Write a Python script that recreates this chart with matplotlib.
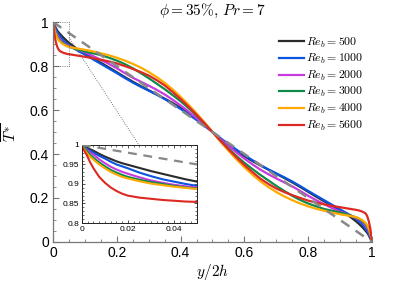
import numpy as np
import matplotlib
matplotlib.use('Agg')
import matplotlib.pyplot as plt
from matplotlib.ticker import MultipleLocator

plt.rcParams['mathtext.fontset'] = 'cm'
plt.rcParams['font.family'] = ['Liberation Sans', 'DejaVu Sans']

# Wall-normal position y/2h
x = [0, 0.001, 0.002, 0.0035, 0.005, 0.0075, 0.01, 0.0125, 0.015, 0.0175, 0.02, 0.025,
     0.03, 0.035, 0.04, 0.045, 0.05, 0.075, 0.1, 0.125, 0.15, 0.175, 0.2, 0.225, 0.25,
     0.275, 0.3, 0.325, 0.35, 0.375, 0.4, 0.425, 0.45, 0.475, 0.5,
     0.525, 0.55, 0.575, 0.6, 0.625, 0.65, 0.675, 0.7, 0.725, 0.75, 0.775, 0.8, 0.825,
     0.85, 0.875, 0.9, 0.925, 0.95, 0.96, 0.97, 0.98, 0.985, 0.99, 0.995, 0.998, 1.0]

# Mean temperature profiles
t_500 = [1, 0.997, 0.993, 0.989, 0.985, 0.977, 0.97, 0.964, 0.958, 0.953, 0.949, 0.941,
         0.933, 0.926, 0.919, 0.912, 0.906, 0.878, 0.855, 0.835, 0.815, 0.794, 0.772, 0.75, 0.729,
         0.709, 0.69, 0.671, 0.652, 0.632, 0.61, 0.586, 0.56, 0.531, 0.5,
         0.469, 0.44, 0.414, 0.39, 0.368, 0.348, 0.329, 0.31, 0.291, 0.271, 0.25, 0.228, 0.206,
         0.185, 0.165, 0.145, 0.122, 0.094, 0.081, 0.067, 0.051, 0.042, 0.03, 0.015, 0.007, 0]
t_1000 = [1, 0.995, 0.99, 0.985, 0.98, 0.972, 0.965, 0.957, 0.95, 0.945, 0.94, 0.929,
          0.92, 0.912, 0.906, 0.9, 0.895, 0.872, 0.852, 0.831, 0.81, 0.789, 0.768, 0.746, 0.725,
          0.706, 0.688, 0.67, 0.65, 0.628, 0.605, 0.58, 0.555, 0.528, 0.5,
          0.472, 0.445, 0.42, 0.395, 0.372, 0.35, 0.33, 0.312, 0.294, 0.275, 0.254, 0.232, 0.211,
          0.19, 0.169, 0.148, 0.128, 0.105, 0.094, 0.08, 0.06, 0.05, 0.035, 0.02, 0.01, 0]
t_2000 = [1, 0.994, 0.988, 0.981, 0.975, 0.963, 0.953, 0.944, 0.937, 0.931, 0.926, 0.917,
          0.909, 0.903, 0.898, 0.894, 0.891, 0.875, 0.862, 0.846, 0.828, 0.81, 0.79, 0.768, 0.747,
          0.729, 0.711, 0.692, 0.671, 0.647, 0.621, 0.593, 0.563, 0.532, 0.5,
          0.468, 0.437, 0.407, 0.379, 0.353, 0.329, 0.308, 0.289, 0.271, 0.253, 0.232, 0.21, 0.19,
          0.172, 0.154, 0.138, 0.125, 0.109, 0.102, 0.091, 0.074, 0.063, 0.047, 0.025, 0.012, 0]
t_3000 = [1, 0.993, 0.985, 0.975, 0.967, 0.955, 0.945, 0.936, 0.929, 0.923, 0.918, 0.911,
          0.905, 0.9, 0.895, 0.891, 0.888, 0.876, 0.866, 0.858, 0.85, 0.838, 0.825, 0.809, 0.79,
          0.768, 0.745, 0.72, 0.695, 0.668, 0.64, 0.609, 0.575, 0.539, 0.5,
          0.461, 0.425, 0.391, 0.36, 0.332, 0.305, 0.28, 0.255, 0.232, 0.21, 0.191, 0.175, 0.162,
          0.15, 0.142, 0.134, 0.124, 0.112, 0.105, 0.095, 0.082, 0.071, 0.055, 0.033, 0.015, 0]
t_4000 = [0.995, 0.988, 0.98, 0.97, 0.962, 0.95, 0.94, 0.931, 0.924, 0.918, 0.914, 0.907,
          0.901, 0.897, 0.893, 0.89, 0.887, 0.88, 0.874, 0.867, 0.858, 0.849, 0.838, 0.825, 0.81,
          0.793, 0.773, 0.75, 0.724, 0.694, 0.66, 0.624, 0.585, 0.544, 0.5,
          0.456, 0.415, 0.376, 0.34, 0.306, 0.276, 0.25, 0.227, 0.207, 0.19, 0.175, 0.162, 0.151,
          0.142, 0.133, 0.126, 0.12, 0.113, 0.107, 0.099, 0.086, 0.076, 0.06, 0.038, 0.02, 0.005]
t_5600 = [0.995, 0.985, 0.975, 0.956, 0.94, 0.918, 0.903, 0.891, 0.882, 0.875, 0.87, 0.865,
          0.862, 0.859, 0.857, 0.855, 0.854, 0.848, 0.842, 0.836, 0.829, 0.821, 0.812, 0.8, 0.787,
          0.773, 0.757, 0.736, 0.712, 0.682, 0.65, 0.615, 0.578, 0.54, 0.5,
          0.46, 0.422, 0.385, 0.35, 0.318, 0.288, 0.264, 0.243, 0.227, 0.213, 0.2, 0.188, 0.179,
          0.171, 0.164, 0.158, 0.152, 0.146, 0.143, 0.138, 0.13, 0.118, 0.095, 0.06, 0.025, 0.005]

# Laminar reference (dashed)
x_lam = [0, 1]
t_lam = [1, 0]

labels = ['$Re_b = 500$', '$Re_b = 1000$', '$Re_b = 2000$',
          '$Re_b = 3000$', '$Re_b = 4000$', '$Re_b = 5600$']
colors = ['#2b2b2b', '#0a55e0', '#c63ae0', '#108a4a', '#ffaa00', '#dc2a22']
profiles = [t_500, t_1000, t_2000, t_3000, t_4000, t_5600]

main_ticks = [0, 0.2, 0.4, 0.6, 0.8, 1]
main_ticklabels = ['0', '0.2', '0.4', '0.6', '0.8', '1']
inset_xticks = [0, 0.02, 0.04]
inset_xticklabels = ['0', '0.02', '0.04']
inset_yticks = [0.8, 0.85, 0.9, 0.95, 1]
inset_yticklabels = ['0.8', '0.85', '0.9', '0.95', '1']

fig = plt.figure(figsize=(4.11, 2.83), dpi=100)
ax = fig.add_axes([0.129, 0.145, 0.776, 0.777])

ax.plot(x_lam, t_lam, color='#888888', lw=1.8, ls=(0, (4, 3)), zorder=3)
for t, c, lab in zip(profiles, colors, labels):
    ax.plot(x, t, color=c, lw=1.6, label=lab, zorder=2)

ax.set_xlim(0, 1)
ax.set_ylim(0, 1)
ax.set_xticks(main_ticks)
ax.set_xticklabels(main_ticklabels)
ax.set_yticks(main_ticks)
ax.set_yticklabels(main_ticklabels)
ax.xaxis.set_minor_locator(MultipleLocator(0.05))
ax.yaxis.set_minor_locator(MultipleLocator(0.05))
ax.tick_params(which='both', direction='in', color='#777777', labelsize=10, pad=3)
ax.tick_params(which='major', length=4, width=0.8)
ax.tick_params(which='minor', length=2.5, width=0.6)
for s in ['top', 'right']:
    ax.spines[s].set_visible(False)
for s in ['left', 'bottom']:
    ax.spines[s].set_color('#777777')
    ax.spines[s].set_linewidth(0.9)

ax.set_title(r'$\phi = 35\%,\, Pr = 7$', fontsize=11, pad=5)
ax.set_xlabel('$y/2h$', fontsize=11, labelpad=1)
ax.set_ylabel(r'$\overline{T^{*}}$', fontsize=11, labelpad=7)

# zoom box and connector
ax.plot([0, 0.05, 0.05, 0], [1, 1, 0.8, 0.8], color='#555555', lw=0.6, ls=':', zorder=4)
ax.plot([0.05, 0.27], [0.93, 0.44], color='#555555', lw=0.6, ls=':', zorder=1)

ax.legend(loc='upper left', bbox_to_anchor=(0.665, 0.895), bbox_transform=fig.transFigure,
          frameon=False, fontsize=8.5, handlelength=2.1, handletextpad=0.15,
          labelspacing=0.22, borderpad=0)

# inset
axi = fig.add_axes([0.1995, 0.212, 0.2795, 0.276])
axi.plot(x_lam, t_lam, color='#888888', lw=1.6, ls=(0, (4, 3)), zorder=3)
for t, c in zip(profiles, colors):
    axi.plot(x, t, color=c, lw=1.5, zorder=2)
axi.set_xlim(0, 0.05)
axi.set_ylim(0.8, 1)
axi.set_xticks(inset_xticks)
axi.set_xticklabels(inset_xticklabels)
axi.set_yticks(inset_yticks)
axi.set_yticklabels(inset_yticklabels)
axi.xaxis.set_minor_locator(MultipleLocator(0.0025))
axi.yaxis.set_minor_locator(MultipleLocator(0.01))
axi.tick_params(which='both', direction='in', top=True, right=True, labelsize=6, pad=2,
                color='#333333')
axi.tick_params(which='major', length=2.5, width=0.6)
axi.tick_params(which='minor', length=1.3, width=0.5)
for s in axi.spines.values():
    s.set_linewidth(0.7)
    s.set_color('#222222')

fig.savefig('out.png', dpi=100)
